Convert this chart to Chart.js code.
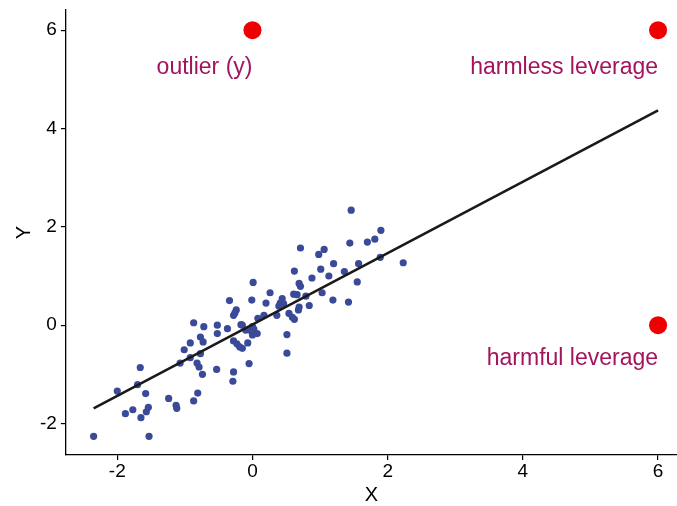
<!DOCTYPE html>
<html lang="en">
  <head>
    <meta charset="UTF-8" />
    <title>Leverage</title>
    <script src="https://cdn.jsdelivr.net/npm/chart.js"></script>
    <style>
      html, body { margin: 0; padding: 0; background: #fff; }
      #box { width: 677px; height: 506px; }
    </style>
  </head>
  <body>
    <div id="box"><canvas id="grafica" width="677" height="506"></canvas></div>
    <script>
      // puntos azules (x, y)
      const pointsX = [
        -2.35, -1.53, -1.88, -1.77, -1.65, -1.57, -1.54, -2.0, -1.7, -1.58,
        -1.66, -1.24, -1.13, -1.12, -0.87, -0.81, -1.07, -1.01, -0.92, -0.92,
        -0.87, -0.72, -0.77, -0.73, -0.77, -0.82, -0.79, -0.74, -0.53, -0.52,
        -0.52, -0.37, -0.34, -0.28, -0.24, -0.26, -0.28, -0.23, -0.19, -0.15,
        -0.28, -0.29, -0.17, -0.07, -0.05, -0.15, -0.1, -0.04, 0.0, 0.0,
        0.02, 0.07, -0.01, 0.01, 0.08, 0.17, 0.2, 0.26, 0.36, 0.44,
        0.41, 0.46, 0.39, 0.51, 0.51, 0.54, 0.59, 0.62, 0.61, 0.66,
        0.69, 0.68, 0.71, 0.62, 0.69, 0.71, 0.79, 0.84, 0.88, 0.98,
        1.06, 1.01, 1.03, 1.13, 1.19, 1.2, 1.36, 1.42, 1.44, 1.46,
        1.55, 1.57, 1.7, 1.81, 1.89, 1.9, 2.23
      ];
      const pointsY = [
        -2.26, -2.26, -1.8, -1.72, -1.88, -1.76, -1.67, -1.34, -1.21, -1.39,
        -0.86, -1.49, -1.63, -1.69, -1.54, -1.38, -0.77, -0.5, -0.36, -0.66,
        0.05, -0.03, -0.24, -0.34, -0.58, -0.77, -0.85, -1.0, -0.9, 0.0,
        -0.17, -0.07, 0.5, 0.2, 0.31, 0.25, -0.32, -0.38, -0.44, -0.47,
        -0.95, -1.14, 0.01, -0.36, -0.78, 0.0, -0.1, -0.1, -0.03, -0.2,
        -0.08, -0.17, 0.51, 0.87, 0.14, 0.2, 0.45, 0.66, 0.2, 0.54,
        0.45, 0.44, 0.39, -0.19, -0.57, 0.24, 0.16, 0.12, 0.63, 0.62,
        0.37, 0.31, 1.57, 1.1, 0.85, 0.79, 0.59, 0.4, 0.96, 1.44,
        1.54, 1.14, 0.66, 1.0, 0.51, 1.25, 1.09, 0.47, 1.67, 2.34,
        0.88, 1.25, 1.69, 1.75, 1.38, 1.93, 1.27
      ];

      // puntos rojos
      const specialX = [0, 6, 6];
      const specialY = [6, 6, 0];

      // etiquetas
      const labelText = ["outlier (y)", "harmless leverage", "harmful leverage"];
      const labelX = [0, 6, 6];
      const labelY = [5.1, 5.1, -0.81];

      // recta de regresion
      const lineX = [-2.35, 6];
      const lineY = [-1.69, 4.37];

      // marcas de los ejes
      const xTicks = [-2, 0, 2, 4, 6];
      const yTicks = [-2, 0, 2, 4, 6];

      const FONT = "'Liberation Sans', Arial, sans-serif";

      function toXY(xs, ys) {
        return xs.map(function (x, i) {
          return { x: x, y: ys[i] };
        });
      }

      const labelPlugin = {
        id: "labels",
        afterDatasetsDraw: function (chart) {
          var ctx = chart.ctx;
          var sx = chart.scales.x;
          var sy = chart.scales.y;
          ctx.save();
          ctx.font = "23px " + FONT;
          ctx.fillStyle = "#a3145c";
          ctx.textAlign = "right";
          ctx.textBaseline = "alphabetic";
          for (var i = 0; i < labelText.length; i++) {
            ctx.fillText(labelText[i], sx.getPixelForValue(labelX[i]), sy.getPixelForValue(labelY[i]));
          }
          ctx.restore();
        },
      };

      var ctx = document.getElementById("grafica").getContext("2d");
      new Chart(ctx, {
        type: "scatter",
        data: {
          datasets: [
            {
              data: toXY(specialX, specialY),
              backgroundColor: "#ee0000",
              borderWidth: 0,
              pointRadius: 9,
              order: 0,
              clip: false,
            },
            {
              type: "line",
              data: toXY(lineX, lineY),
              borderColor: "#1a1a1a",
              borderWidth: 2.6,
              pointRadius: 0,
              fill: false,
              order: 1,
            },
            {
              data: toXY(pointsX, pointsY),
              backgroundColor: "#3a4a98",
              borderWidth: 0,
              pointRadius: 3.6,
              order: 2,
            },
          ],
        },
        options: {
          responsive: false,
          animation: false,
          layout: { autoPadding: false, padding: { left: 12, right: 0, top: 10, bottom: 1 } },
          plugins: {
            legend: { display: false },
            tooltip: { enabled: false },
          },
          scales: {
            x: {
              type: "linear",
              min: -2.76,
              max: 6.28,
              afterBuildTicks: function (axis) {
                axis.ticks = xTicks.map(function (v) { return { value: v }; });
              },
              afterFit: function (axis) {
                axis.paddingRight = 0;
                axis.paddingLeft = 0;
              },
              grid: { drawOnChartArea: false, drawTicks: true, tickLength: 5, color: "#000", lineWidth: 1.2 },
              border: { display: true, color: "#000", width: 1.3 },
              ticks: { color: "#000", font: { family: FONT, size: 19, lineHeight: 1 }, padding: 2, maxRotation: 0 },
              title: { display: true, text: "X", color: "#000", font: { family: FONT, size: 20, lineHeight: 1 }, padding: { top: 2, bottom: 0 } },
            },
            y: {
              type: "linear",
              min: -2.64,
              max: 6.41,
              afterBuildTicks: function (axis) {
                axis.ticks = yTicks.map(function (v) { return { value: v }; });
              },
              afterFit: function (axis) {
                axis.paddingTop = 0;
                axis.paddingBottom = 0;
              },
              grid: { drawOnChartArea: false, drawTicks: true, tickLength: 5, color: "#000", lineWidth: 1.2 },
              border: { display: true, color: "#000", width: 1.3 },
              ticks: { color: "#000", font: { family: FONT, size: 19 }, padding: 4 },
              title: { display: true, text: "Y", color: "#000", font: { family: FONT, size: 20 }, padding: { top: 0, bottom: 0 } },
            },
          },
        },
        plugins: [labelPlugin],
      });
    </script>
  </body>
</html>
